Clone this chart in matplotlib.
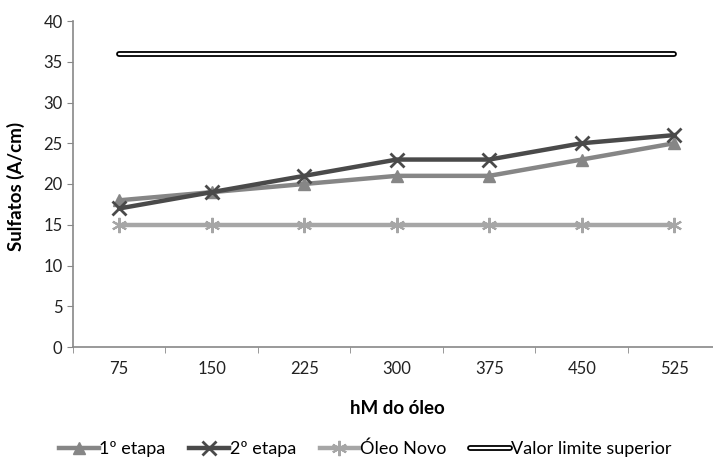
import matplotlib.pyplot as plt
import matplotlib.patheffects as pe

# hours of oil use
hours = ["75", "150", "225", "300", "375", "450", "525"]
etapa1 = [18, 19, 20, 21, 21, 23, 25]
etapa2 = [17, 19, 21, 23, 23, 25, 26]
oleo_novo = [15, 15, 15, 15, 15, 15, 15]
limite = [36, 36, 36, 36, 36, 36, 36]

plt.rcParams["font.family"] = ["Lato", "DejaVu Sans"]

fig = plt.figure(figsize=(7.13, 4.59), dpi=100)
ax = fig.add_axes([73 / 713, 1 - 347 / 459, (720.5 - 73) / 713, (347 - 21) / 459])

x = list(range(len(hours)))

ax.plot(x, etapa1, color="#868686", lw=3.2, marker="^", ms=9,
        label="1º etapa")
ax.plot(x, etapa2, color="#4a4a4a", lw=3.2, marker="x", ms=10,
        mew=2, label="2º etapa")
ax.plot(x, oleo_novo, color="#a6a6a6", lw=3.2, marker=(6, 2, 0),
        ms=11, mew=1.5, label="Óleo Novo")
# double line for the limit: white core with a black outline
ax.plot(x, limite, color="white", lw=1.6, solid_capstyle="round",
        path_effects=[pe.Stroke(linewidth=4.2, foreground="black"), pe.Normal()],
        label="Valor limite superior")

ax.set_xlim(-0.5, 6.5)
ax.set_ylim(0, 40)
ax.set_yticks(range(0, 41, 5))
ax.set_xticks(x)
ax.set_xticklabels(hours)
ax.set_xticks([i + 0.5 for i in range(-1, 7)], minor=True)
ax.tick_params(axis="x", which="major", length=0, pad=10, labelsize=12,
               labelcolor="#222222")
ax.tick_params(axis="x", which="minor", length=4, color="#888888",
               direction="out")
ax.tick_params(axis="y", length=4, color="#888888", labelsize=12,
               labelcolor="#222222")

for s in ["top", "right"]:
    ax.spines[s].set_visible(False)
for s in ["left", "bottom"]:
    ax.spines[s].set_color("#888888")
    ax.spines[s].set_linewidth(1.2)

ax.set_ylabel("Sulfatos (A/cm)", fontsize=13.5, fontweight="bold", labelpad=6)
ax.set_xlabel("hM do óleo", fontsize=13.5, fontweight="bold")
ax.xaxis.set_label_coords((397 - 73) / (720.5 - 73), -53 / 326)
ax.yaxis.set_label_coords(-48 / 647.5, (347 - 186) / 326)

fig.legend(loc="center", bbox_to_anchor=(365 / 713, 1 - 449 / 459),
           ncol=4, frameon=False, fontsize=13, handlelength=2.2,
           handletextpad=0.05, columnspacing=1.3, borderpad=0)

fig.savefig("out.png", dpi=100)
